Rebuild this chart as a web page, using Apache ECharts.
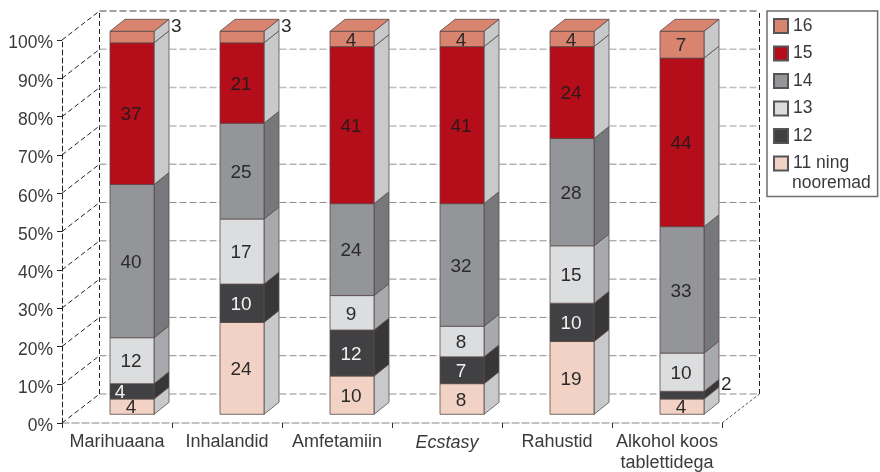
<!DOCTYPE html>
<html><head><meta charset="utf-8">
<style>html,body{margin:0;padding:0;background:#fff}#c{width:880px;height:472px}</style>
<script src="https://cdn.jsdelivr.net/npm/echarts@6/dist/echarts.min.js"></script>
</head><body><div id="c"></div>
<script>
const categories = ['Marihuaana','Inhalandid','Amfetamiin','Ecstasy','Rahustid','Alkohol koos\ntablettidega'];
const ages = ['11 ning nooremad','12','13','14','15','16'];
const age11 = [4,24,10,8,19,4];
const age12 = [4,10,12,7,10,2];
const age13 = [12,17,9,8,15,10];
const age14 = [40,25,24,32,28,33];
const age15 = [37,21,41,41,24,44];
const age16 = [3,3,4,4,4,7];
const ageValues = [age11,age12,age13,age14,age15,age16];
const yTicks = [0,10,20,30,40,50,60,70,80,90,100];

const frontColors = ['#F2D2C4','#414042','#DCDDDE','#939598','#B50D1A','#D8846E'];
const sideColors  = ['#C7C9CB','#373738','#A7A9AC','#77787B','#C7C9CB','#C7C9CB'];
const labelColors = ['#2b2a2b','#f2f2f2','#2b2a2b','#2b2a2b','#2b1a1c','#2b2a2b'];
const edge = '#5c4a4a';
const FONT = '"Liberation Sans", Arial, sans-serif';
const textCol = '#3a3a3c';

// depth geometry (px)
const wallDx = 37.5, wallDy = -29;
const barOffset = 48, barDy = -8.7, barW = 44, depthX = 15, depthY = -12;

const cum = (s, c) => { let t = 0; for (let i = 0; i < s; i++) t += ageValues[i][c]; return t; };

function renderSegment(s) {
  return function (params, api) {
    const c = api.value(0), v = api.value(1);
    const base = cum(s, c);
    const catLeft = api.coord([c, 0])[0] - api.size([1, 0])[0] / 2;
    const x0 = catLeft + barOffset;
    const yB = api.coord([c, base])[1] + barDy;
    const yT = api.coord([c, base + v])[1] + barDy;
    const x1 = x0 + barW;
    const lw = { stroke: edge, lineWidth: 0.8 };
    const ch = [
      { type:'polygon', shape:{points:[[x1,yB],[x1+depthX,yB+depthY],[x1+depthX,yT+depthY],[x1,yT]]},
        style:Object.assign({fill:sideColors[s]},lw) },
      { type:'rect', shape:{x:x0,y:yT,width:barW,height:yB-yT},
        style:Object.assign({fill:frontColors[s]},lw) }
    ];
    if (s === ages.length - 1) {
      ch.push({ type:'polygon', shape:{points:[[x0,yT],[x0+depthX,yT+depthY],[x1+depthX,yT+depthY],[x1,yT]]},
        style:Object.assign({fill:frontColors[s]},lw) });
    }
    const outside = v <= 3;
    const nudge = (s === 1 && c === 0) ? -11 : 0;
    ch.push({ type:'text', z2:10, style:{
      text:String(v),
      x: outside ? x1+depthX+2 : (x0+x1)/2+nudge-1,
      y: (yB+yT)/2 + (outside ? depthY : 0) + 1.5,
      align: outside ? 'left' : 'center', verticalAlign:'middle',
      fill: outside ? '#2b2a2b' : labelColors[s],
      font:'19px '+FONT }});
    return { type:'group', children:ch };
  };
}

function renderWall(params, api) {
  const t = api.value(0);
  const y = api.coord([0, t])[1];
  const left = api.coord([0, 0])[0] - api.size([1, 0])[0] / 2;
  const right = left + api.size([1, 0])[0] * categories.length;
  const ch = [];
  const light = t >= 70 && t < 100;
  ch.push({ type:'line', shape:{x1:left+wallDx,y1:y+wallDy,x2:right+wallDx,y2:y+wallDy},
    style: t === 100 ? {stroke:'#444',lineWidth:1,lineDash:[7,3]}
         : light ? {stroke:'#bdbdbd',lineWidth:1.5,lineDash:[7,3]}
         : {stroke:'#8c8c8c',lineWidth:1,lineDash:[7,3]} });
  ch.push({ type:'line', shape:{x1:left,y1:y,x2:left+wallDx,y2:y+wallDy},
    style:{stroke:'#222',lineWidth:1,lineDash:[5,3]} });
  if (t === 0) {
    ch.push({ type:'line', shape:{x1:right,y1:y,x2:right+wallDx,y2:y+wallDy},
      style:{stroke:'#555',lineWidth:1,lineDash:[3,2]} });
    const top = api.coord([0,100])[1];
    ch.push({ type:'line', shape:{x1:left+wallDx,y1:y+wallDy,x2:left+wallDx,y2:top+wallDy},
      style:{stroke:'#222',lineWidth:1,lineDash:[5,3]} });
    ch.push({ type:'line', shape:{x1:right+wallDx,y1:y+wallDy,x2:right+wallDx,y2:top+wallDy},
      style:{stroke:'#222',lineWidth:1,lineDash:[5,3]} });
  }
  return { type:'group', children:ch };
}

const chart = echarts.init(document.getElementById('c'), null, {renderer:'canvas'});
const segSeries = ages.map((a, s) => ({
  name: a, type:'custom', coordinateSystem:'cartesian2d', z:5 + s, silent:true, clip:false,
  itemStyle:{color:frontColors[s],borderColor:'#555',borderWidth:1},
  encode:{x:0,y:1},
  renderItem: renderSegment(s),
  data: ageValues[s].map((v,c) => [c,v])
}));

chart.setOption({
  animation:false,
  backgroundColor:'#fff',
  grid:{left:62,top:40,width:660,height:383,containLabel:false,outerBoundsMode:'none'},
  legend:{
    orient:'vertical', left:767, top:11, align:'left',
    padding:[6,28.5,24,6], itemGap:9.5, itemWidth:14, itemHeight:14,
    backgroundColor:'#fff', borderColor:'#6d6e70', borderWidth:1.5,
    selectedMode:false, icon:'rect',
    data:ages.slice().reverse(),
    formatter:n => n === ages[0] ? '11 ning' : n,
    textStyle:{fontFamily:FONT,fontSize:17.5,color:textCol}
  },
  xAxis:{
    type:'category',
    data:categories.map(n => n === 'Ecstasy' ? {value:n,textStyle:{fontStyle:'italic'}} : n),
    boundaryGap:true,
    axisLine:{lineStyle:{color:'#b0b0b0',type:[7,3],width:1.5}},
    axisTick:{show:true,length:5,lineStyle:{color:'#333',width:1}},
    axisLabel:{interval:0,fontFamily:FONT,fontSize:18,color:textCol,margin:9,lineHeight:21}
  },
  yAxis:{
    type:'value',min:0,max:100,interval:10,
    axisLine:{show:true,lineStyle:{color:'#222',type:[5,3],width:1}},
    axisTick:{show:true,length:5,lineStyle:{color:'#222',width:1}},
    splitLine:{show:false},
    axisLabel:{formatter:'{value}%',fontFamily:FONT,fontSize:17.5,color:textCol,margin:9,verticalAlign:'top',lineHeight:7}
  },
  graphic:[{type:'text',left:792,top:174,silent:true,z:100,
    style:{text:'nooremad',font:'17.5px '+FONT,fill:textCol}}],
  series:[{
    name:'wall',type:'custom',coordinateSystem:'cartesian2d',z:1,silent:true,clip:false,
    encode:{y:1},
    renderItem:renderWall,
    data:yTicks.map(t => [t,t])
  }].concat(segSeries)
});
</script></body></html>
